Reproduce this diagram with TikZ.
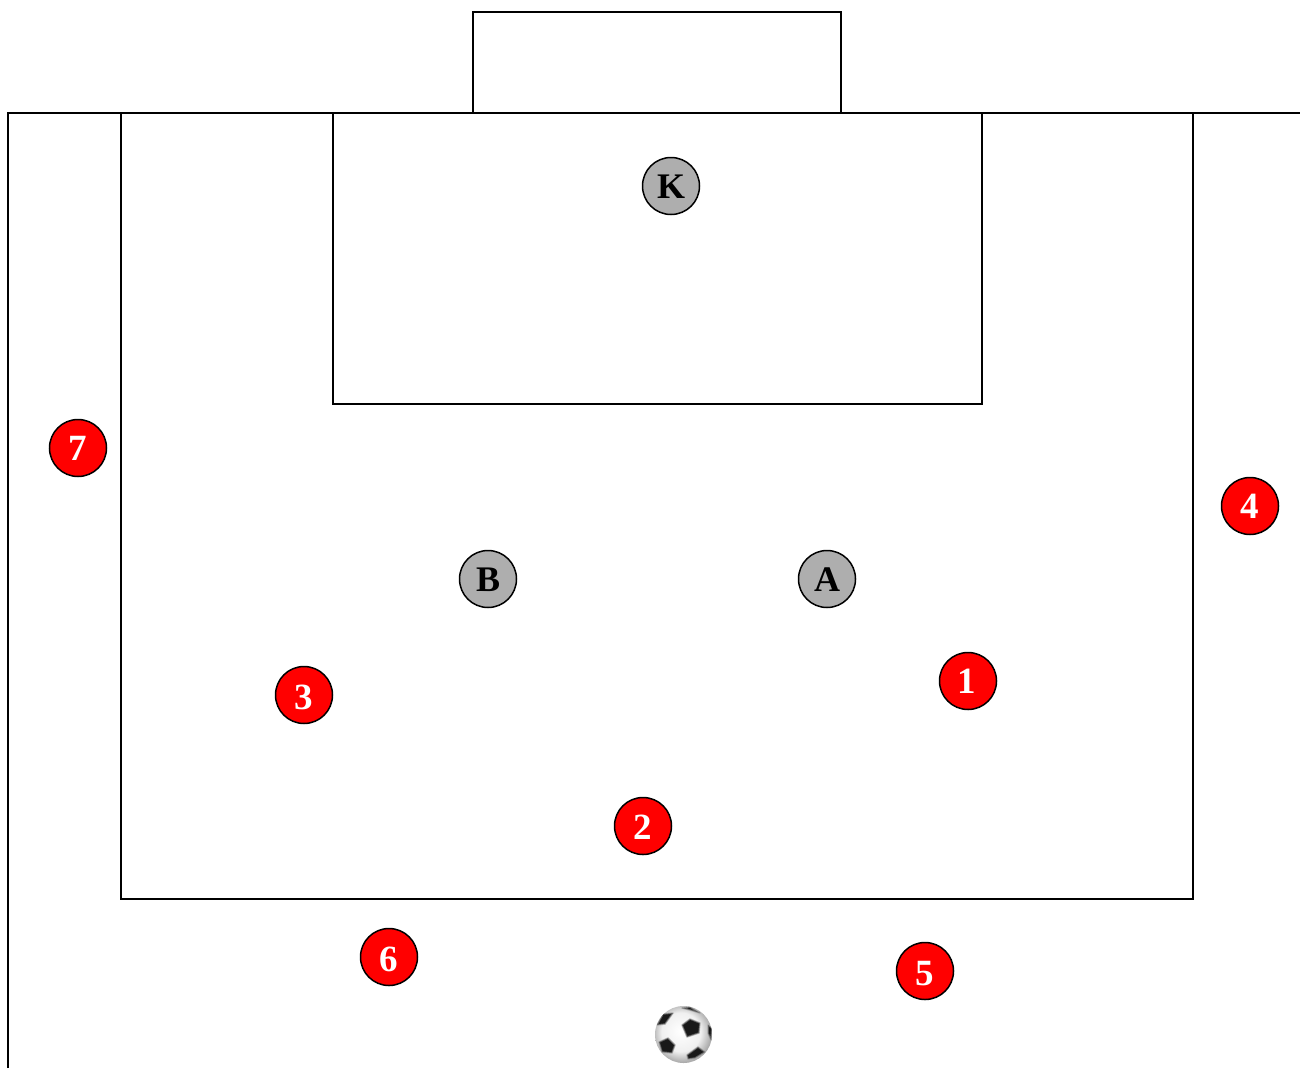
\documentclass[tikz,border=0pt]{standalone}
\usepackage{fontspec}
\setmainfont{Liberation Serif}
\definecolor{keeper}{RGB}{174,174,174}
\definecolor{attacker}{RGB}{255,0,0}
\pgfdeclareradialshading{ballshade}{\pgfpoint{-3bp}{3bp}}{color(0bp)=(white); color(16bp)=(black!6); color(24bp)=(black!32); color(30bp)=(black!45); color(50bp)=(black!45)}
\tikzset{
  pitchline/.style={draw=black,line width=1.5pt,line join=miter},
  player/.style={circle,draw=black,line width=1.5pt,minimum size=57pt,inner sep=0pt,text depth=0pt,font=\bfseries},
  baseoffset/.style={text height=#1*2pt},
  grayplayer/.style={player,fill=keeper,text=black,font=\fontsize{36}{36}\selectfont\bfseries,baseoffset=12},
  redplayer/.style={player,fill=attacker,text=white,font=\fontsize{37}{37}\selectfont\bfseries,baseoffset=#1},
  redplayer/.default=12,
  patch/.style={fill=black!90,draw=black!45,line width=1.5pt,line join=round,draw opacity=.6}
}
\begin{document}
\begin{tikzpicture}[x=1pt,y=-1pt]
\useasboundingbox (0,0) rectangle (1300,1068);
\fill[white] (0,0) rectangle (1300,1068);
% pitch
\draw[pitchline] (8,1068) -- (8,113) -- (1300,113);
\draw[pitchline] (473,113) -- (473,12) -- (841,12) -- (841,113);
\draw[pitchline] (121,113) -- (121,899) -- (1193,899) -- (1193,113);
\draw[pitchline] (333,113) -- (333,404) -- (982,404) -- (982,113);
% players
\node[grayplayer] (k) at (671,186) {K};
\node[grayplayer] (b) at (488,579) {B};
\node[grayplayer] (a) at (827,579) {A};
\node[redplayer=12] (p1) at (968,681) {\kern-2pt 1};
\node[redplayer=13] (p2) at (643,826) {2};
\node[redplayer=14] (p3) at (304,695) {3};
\node[redplayer=12] (p4) at (1250,506) {4};
\node[redplayer=14] (p5) at (925,971) {5};
\node[redplayer=14] (p6) at (389,957) {6};
\node[redplayer=12] (p7) at (78,448) {7};
% ball
\begin{scope}
\clip (683.5,1034.5) circle (28.5);
\shade[shading=ballshade] (653,1004) rectangle (714,1065);
\fill[patch] (682,1025) -- (690,1019) -- (700,1023) -- (699,1033) -- (687,1037) -- cycle;
\fill[patch] (657,1025) -- (663,1014) -- (673,1013) -- (665,1024) -- cycle;
\fill[patch] (659,1042) -- (668,1038) -- (675,1045) -- (672,1053) -- (662,1052) -- cycle;
\fill[patch] (687,1055) -- (698,1047) -- (705,1052) -- (695,1058) -- (688,1059) -- cycle;
\fill[patch] (682,1008) -- (690,1007) -- (700,1013) -- (690,1010) -- cycle;
\fill[patch] (708,1025) -- (712,1028) -- (711,1040) -- (708,1033) -- cycle;
\end{scope}
\end{tikzpicture}
\end{document}
